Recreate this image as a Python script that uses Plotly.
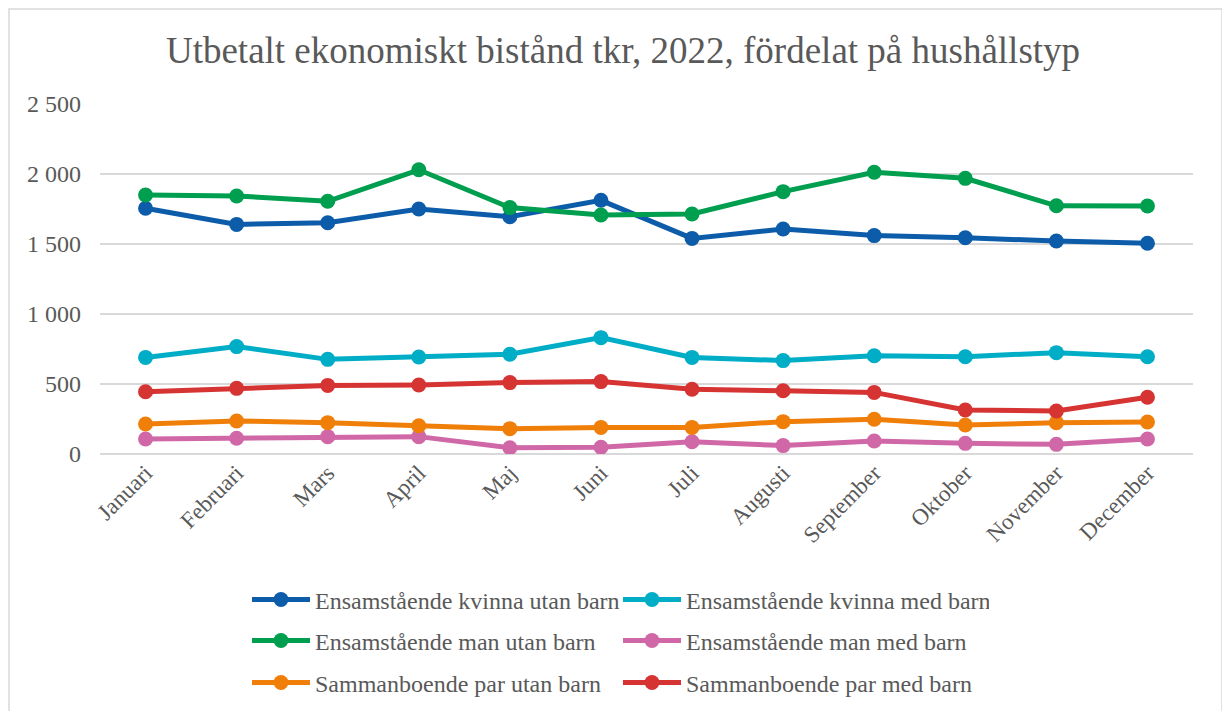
import plotly.graph_objects as go

# Månader
manader = ["Januari", "Februari", "Mars", "April", "Maj", "Juni", "Juli",
           "Augusti", "September", "Oktober", "November", "December"]

# Värden i tkr
kvinna_utan = [1755, 1640, 1652, 1750, 1695, 1812, 1540, 1607, 1560, 1545, 1521, 1505]
kvinna_med = [690, 767, 676, 693, 712, 831, 690, 667, 702, 695, 724, 695]
man_utan = [1850, 1843, 1805, 2030, 1760, 1707, 1714, 1874, 2012, 1969, 1773, 1771]
man_med = [107, 112, 124, 124, 45, 48, 88, 60, 93, 76, 69, 107]
par_utan = [214, 236, 224, 202, 181, 190, 190, 231, 248, 207, 224, 229]
par_med = [445, 469, 490, 493, 510, 517, 462, 452, 440, 314, 307, 405]

# (namn, data, färg, legend) - ordning enligt legendens rader
serier = [
    ("Ensamstående kvinna utan barn", kvinna_utan, "#0c5ca9", "legend"),
    ("Ensamstående kvinna med barn", kvinna_med, "#00adc6", "legend"),
    ("Ensamstående man utan barn", man_utan, "#009e4f", "legend2"),
    ("Ensamstående man med barn", man_med, "#d068a8", "legend2"),
    ("Sammanboende par utan barn", par_utan, "#f07f09", "legend3"),
    ("Sammanboende par med barn", par_med, "#d63333", "legend3"),
]

fig = go.Figure()

# Ritar linjerna
for namn, data, farg, leg in serier:
    fig.add_trace(go.Scatter(
        x=manader,
        y=data,
        mode="lines+markers",
        name=namn,
        line=dict(color=farg, width=5),
        marker=dict(color=farg, size=15),
        legend=leg,
    ))

textfarg = "#595959"
font_namn = "Liberation Serif, Times New Roman, serif"

# Sidan har 8px marginal i body, därför förskjuts allt
L, T = 92, 96
PW, PH = 1093, 350

# En legend per rad
legbas = dict(
    orientation="h",
    x=(247 - 100) / PW,
    xanchor="left",
    yanchor="middle",
    font=dict(family=font_namn, size=24, color=textfarg),
    itemwidth=58,
    entrywidth=298,
    bgcolor="rgba(0,0,0,0)",
    traceorder="normal",
)

fig.update_layout(
    width=1230,
    height=711,
    margin=dict(l=L, r=1230 - L - PW, t=T, b=711 - T - PH),
    paper_bgcolor="white",
    plot_bgcolor="white",
    separators=", ",
    title=dict(
        text="Utbetalt ekonomiskt bistånd tkr, 2022, fördelat på hushållstyp",
        x=0.5,
        xanchor="center",
        y=1 - 42 / 711,
        yanchor="middle",
        font=dict(family=font_namn, size=37, color=textfarg),
    ),
    xaxis=dict(
        range=[-0.5, 11.5],
        tickangle=-45,
        tickfont=dict(family=font_namn, size=23, color=textfarg),
        showgrid=False,
        showline=False,
        ticks="",
    ),
    yaxis=dict(
        range=[0, 2500],
        dtick=500,
        tickformat=",d",
        tickfont=dict(family=font_namn, size=24, color=textfarg),
        gridcolor="#d9d9d9",
        gridwidth=1.5,
        zeroline=True,
        zerolinecolor="#d9d9d9",
        zerolinewidth=1.5,
        showline=False,
        ticks="",
        ticklabelstandoff=18,
    ),
    legend=dict(legbas, y=-0.417),
    legend2=dict(legbas, y=-0.534),
    legend3=dict(legbas, y=-0.654),
    showlegend=True,
)

# Ram runt diagrammet
fig.add_shape(
    type="rect",
    xref="paper", yref="paper",
    x0=(1 - L) / PW, x1=(1214 - L) / PW,
    y0=-(711 - T - PH + 20) / PH, y1=(PH + T - 1) / PH,
    line=dict(color="#d9d9d9", width=1.5),
    fillcolor="rgba(0,0,0,0)",
    layer="below",
)

fig.write_html("out.html")
